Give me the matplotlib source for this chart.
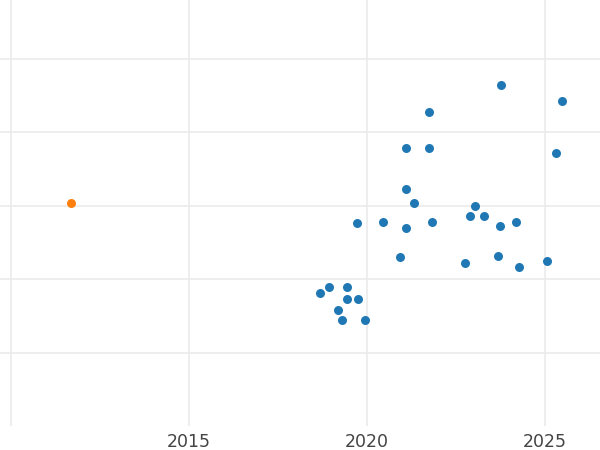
import matplotlib
matplotlib.use("Agg")
import matplotlib.pyplot as plt

# main group (blue)
years_a = [2023.76, 2025.47, 2021.75, 2021.10, 2021.75, 2025.31, 2021.10, 2021.32,
           2023.05, 2019.71, 2020.45, 2021.10, 2021.83, 2022.90, 2023.29, 2023.74,
           2024.18, 2020.93, 2022.76, 2023.67, 2024.26, 2025.06, 2018.67, 2018.94,
           2019.44, 2019.44, 2019.76, 2019.19, 2019.30, 2019.94]
values_a = [4.64, 4.42, 4.28, 3.78, 3.78, 3.72, 3.22, 3.04,
            3.00, 2.76, 2.78, 2.70, 2.78, 2.86, 2.86, 2.72,
            2.78, 2.30, 2.22, 2.32, 2.17, 2.24, 1.81, 1.89,
            1.89, 1.73, 1.73, 1.58, 1.45, 1.45]

# outlier (orange)
years_b = [2011.68]
values_b = [3.04]

x_ticks = [2010, 2015, 2020, 2025]
x_labels = ["", "2015", "2020", "2025"]
y_grid = [1, 2, 3, 4, 5]

fig = plt.figure(figsize=(6, 4.5), dpi=100)
ax = fig.add_axes([0, 24 / 450, 1, 426 / 450])

ax.scatter(years_a, values_a, s=42, color="#1f77b4", zorder=3, linewidths=0)
ax.scatter(years_b, values_b, s=42, color="#ff7f0e", zorder=3, linewidths=0)

ax.set_xlim(2009.69, 2026.55)
ax.set_ylim(0.0, 5.8)
ax.set_xticks(x_ticks)
ax.set_xticklabels(x_labels)
ax.set_yticks(y_grid)
ax.set_yticklabels([])
ax.grid(True, color="#ebebeb", linewidth=1.2, zorder=0)
ax.set_axisbelow(True)
ax.tick_params(axis="both", length=0)
ax.tick_params(axis="x", labelsize=12.5, labelcolor="#444444", pad=5)
for s in ax.spines.values():
    s.set_visible(False)

fig.savefig("out.png", dpi=100)
